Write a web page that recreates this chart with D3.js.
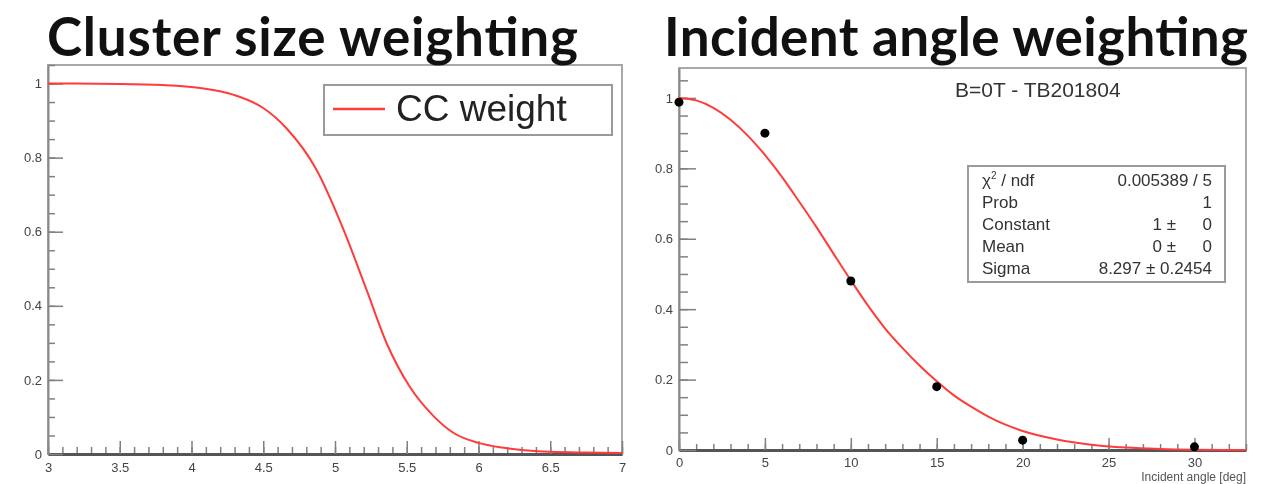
<!DOCTYPE html>
<html>
<head>
<meta charset="utf-8">
<script src="https://cdn.jsdelivr.net/npm/d3@7"></script>
<style>
  body { margin: 0; background: #fff; }
  svg { display: block; filter: blur(0.6px); }
</style>
</head>
<body>
<div id="chart"></div>
<script>
// cluster size weighting curve
var ccX = [3, 3.5, 3.8, 4.06, 4.29, 4.5, 4.66, 4.87, 5.06, 5.22, 5.36, 5.52, 5.69, 5.83, 6.0, 6.15, 6.3, 6.5, 6.75, 7];
var ccY = [1.0, 0.999, 0.996, 0.988, 0.97, 0.934, 0.88, 0.768, 0.605, 0.443, 0.299, 0.182, 0.101, 0.056, 0.03, 0.018, 0.011, 0.006, 0.004, 0.003];

// incident angle measurements
var angX = [0, 5, 10, 15, 20, 30];
var angY = [0.988, 0.90, 0.48, 0.18, 0.028, 0.009];

// gaussian fit curve
var fitX = [0, 1, 2, 3, 4, 5, 6, 7, 8, 9, 10, 11, 12, 13, 14, 15, 16, 17, 18, 19, 20, 22, 24, 26, 28, 30, 33];
var fitY = [1.0, 0.993, 0.972, 0.938, 0.893, 0.838, 0.775, 0.705, 0.633, 0.557, 0.482, 0.41, 0.345, 0.29, 0.24, 0.195, 0.155, 0.123, 0.095, 0.072, 0.054, 0.03, 0.015, 0.007, 0.003, 0.001, 0.0];

var leftXTicks = [3, 3.5, 4, 4.5, 5, 5.5, 6, 6.5, 7];
var rightXTicks = [0, 5, 10, 15, 20, 25, 30];
var yTicks = [0, 0.2, 0.4, 0.6, 0.8, 1];

var statNames = ["ndf", "Prob", "Constant", "Mean", "Sigma"];
var statVals = ["0.005389 / 5", "1", "1 \u00b1", "0 \u00b1", "8.297 \u00b1 0.2454"];
var statErrs = ["", "", "0", "0", ""];

var width = 1274, height = 484;
var red = "#ff3b3b";

var svg = d3.select("#chart").append("svg")
  .attr("width", width)
  .attr("height", height);

var fmt = d => String(+d.toFixed(1));

function panel(cfg) {
  var x = d3.scaleLinear().domain(cfg.xDomain).range([cfg.left, cfg.right]);
  var y = d3.scaleLinear().domain(cfg.yDomain).range([cfg.bottom, cfg.top]);

  // frame
  svg.append("rect")
    .attr("x", cfg.left).attr("y", cfg.top)
    .attr("width", cfg.right - cfg.left).attr("height", cfg.bottom - cfg.top)
    .attr("fill", "none").attr("stroke", "#a8a8a8").attr("stroke-width", 2);

  // minor ticks
  svg.append("g")
    .attr("transform", `translate(0,${cfg.bottom})`)
    .call(d3.axisBottom(x).tickValues(cfg.xMinor).tickSize(-cfg.xMinorLen).tickFormat(""))
    .call(g => g.select(".domain").remove());
  svg.append("g")
    .attr("transform", `translate(${cfg.left},0)`)
    .call(d3.axisLeft(y).tickValues(cfg.yMinor).tickSize(-cfg.yMinorLen).tickFormat(""))
    .call(g => g.select(".domain").remove());

  // major ticks + labels
  var xa = svg.append("g")
    .attr("class", "axis")
    .attr("transform", `translate(0,${cfg.bottom})`)
    .call(d3.axisBottom(x).tickValues(cfg.xTicks).tickSize(-cfg.xMajorLen).tickPadding(cfg.xPad).tickSizeOuter(0).tickFormat(fmt));
  xa.select(".domain").attr("stroke", "#555").attr("stroke-width", 3);

  var ya = svg.append("g")
    .attr("class", "axis")
    .attr("transform", `translate(${cfg.left},0)`)
    .call(d3.axisLeft(y).tickValues(yTicks).tickSize(-cfg.yMajorLen).tickPadding(cfg.yPad).tickSizeOuter(0).tickFormat(fmt));
  ya.select(".domain").attr("stroke", "#8a8a8a").attr("stroke-width", 2);

  svg.selectAll(".tick line").attr("stroke", "#808080").attr("stroke-width", 1.5);
  svg.selectAll(".tick text")
    .attr("fill", "#444")
    .style("font-family", "'Liberation Sans', Arial, sans-serif")
    .style("font-size", "13px");

  // title
  svg.append("text")
    .attr("x", cfg.titleX).attr("y", 56)
    .attr("textLength", cfg.titleW)
    .attr("lengthAdjust", "spacing")
    .style("font-family", "Lato, sans-serif")
    .style("font-weight", 700)
    .style("font-size", "53px")
    .attr("fill", "#111")
    .text(cfg.title);

  return {x, y};
}

// ---- left panel
var L = panel({
  xDomain: [3, 7], yDomain: [0, 1.05],
  left: 48, right: 622, top: 65, bottom: 454,
  xTicks: leftXTicks, xMinor: d3.range(3, 7.001, 0.1),
  yMinor: d3.range(0, 1.051, 0.05),
  xMajorLen: 13, xMinorLen: 7, yMajorLen: 15, yMinorLen: 7,
  xPad: 9, yPad: 6,
  title: "Cluster size weighting", titleX: 47, titleW: 531
});

var ccData = ccX.map((d, i) => [d, ccY[i]]);
svg.append("path")
  .datum(ccData)
  .attr("fill", "none")
  .attr("stroke", red)
  .attr("stroke-width", 2)
  .attr("d", d3.line().x(d => L.x(d[0])).y(d => L.y(d[1])).curve(d3.curveMonotoneX));

// legend
svg.append("rect")
  .attr("x", 324).attr("y", 85).attr("width", 288).attr("height", 50)
  .attr("fill", "#fff").attr("stroke", "#9a9a9a").attr("stroke-width", 2);
svg.append("line")
  .attr("x1", 333).attr("x2", 385).attr("y1", 109).attr("y2", 109)
  .attr("stroke", red).attr("stroke-width", 2.5);
svg.append("text")
  .attr("x", 396).attr("y", 121)
  .style("font-family", "'Liberation Sans', Arial, sans-serif")
  .style("font-size", "37px")
  .attr("fill", "#222")
  .text("CC weight");

// ---- right panel
var R = panel({
  xDomain: [0, 33], yDomain: [0, 1.085],
  left: 679, right: 1246, top: 68, bottom: 450,
  xTicks: rightXTicks, xMinor: d3.range(0, 33.001, 1),
  yMinor: d3.range(0, 1.085, 0.05),
  xMajorLen: 12, xMinorLen: 6, yMajorLen: 17, yMinorLen: 9,
  xPad: 8, yPad: 6,
  title: "Incident angle weighting", titleX: 664, titleW: 584
});

var fitData = fitX.map((d, i) => [d, fitY[i]]);
svg.append("path")
  .datum(fitData)
  .attr("fill", "none")
  .attr("stroke", red)
  .attr("stroke-width", 2)
  .attr("d", d3.line().x(d => R.x(d[0])).y(d => R.y(d[1])).curve(d3.curveMonotoneX));

svg.selectAll(".pt")
  .data(angX.map((d, i) => [d, angY[i]]))
  .enter().append("circle")
  .attr("class", "pt")
  .attr("cx", d => R.x(d[0]))
  .attr("cy", d => R.y(d[1]))
  .attr("r", 4.5)
  .attr("fill", "#000");

svg.append("text")
  .attr("x", 1246).attr("y", 481)
  .attr("text-anchor", "end")
  .style("font-family", "'Liberation Sans', Arial, sans-serif")
  .style("font-size", "12px")
  .attr("fill", "#555")
  .text("Incident angle [deg]");

svg.append("text")
  .attr("x", 955).attr("y", 97)
  .style("font-family", "'Liberation Sans', Arial, sans-serif")
  .style("font-size", "21px")
  .attr("fill", "#333")
  .text("B=0T - TB201804");

// stats box
svg.append("rect")
  .attr("x", 968).attr("y", 166).attr("width", 257).attr("height", 116)
  .attr("fill", "#fff").attr("stroke", "#9a9a9a").attr("stroke-width", 2);

var stats = svg.append("g")
  .style("font-family", "'Liberation Sans', Arial, sans-serif")
  .style("font-size", "17px")
  .attr("fill", "#333");

statNames.forEach((n, i) => {
  var yy = 186 + i * 22;
  var t = stats.append("text").attr("x", 982).attr("y", yy);
  if (i === 0) {
    t.append("tspan").text("\u03c7");
    t.append("tspan").attr("dy", -7).style("font-size", "10px").text("2");
    t.append("tspan").attr("dy", 7).text(" / ndf");
  } else {
    t.text(n);
  }
  if (statErrs[i] === "") {
    stats.append("text").attr("x", 1212).attr("y", yy).attr("text-anchor", "end").text(statVals[i]);
  } else {
    stats.append("text").attr("x", 1176).attr("y", yy).attr("text-anchor", "end").text(statVals[i]);
    stats.append("text").attr("x", 1212).attr("y", yy).attr("text-anchor", "end").text(statErrs[i]);
  }
});
</script>
</body>
</html>
